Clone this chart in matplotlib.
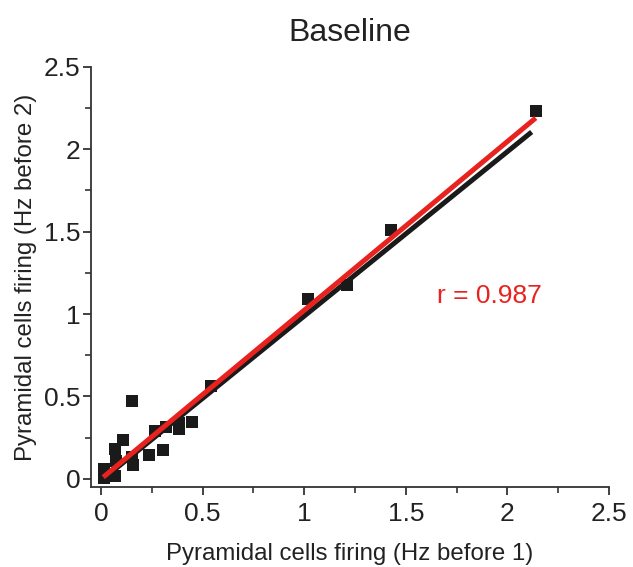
import numpy as np
import matplotlib.pyplot as plt
from matplotlib.ticker import MultipleLocator

plt.rcParams['font.family'] = ['Liberation Sans', 'DejaVu Sans']

# data
x_before1 = [0.012, 0.012, 0.070, 0.072, 0.070, 0.108, 0.152, 0.157, 0.154, 0.235, 0.265,
             0.303, 0.320, 0.383, 0.385, 0.445, 0.540, 1.018, 1.212, 1.427, 2.140]
y_before2 = [0.005, 0.058, 0.015, 0.108, 0.180, 0.238, 0.135, 0.085, 0.475, 0.143, 0.292,
             0.176, 0.312, 0.338, 0.302, 0.345, 0.566, 1.090, 1.177, 1.510, 2.232]

# fitted lines (end points)
black_x = [0.01, 2.12]
black_y = [0.00, 2.105]
red_x = [0.01, 2.14]
red_y = [0.01, 2.19]

r_text = 'r = 0.987'
red = '#e8231f'
dark = '#222222'

fig = plt.figure(figsize=(6.33, 5.67), dpi=100)
ax = fig.add_axes([0.1438, 0.141, 0.818, 0.741])

ax.scatter(x_before1, y_before2, marker='s', s=64, color='#1a1a1a', zorder=2, linewidths=0)
ax.plot(black_x, black_y, color='#1a1a1a', lw=3.6, solid_capstyle='butt', zorder=3)
ax.plot(red_x, red_y, color=red, lw=3.6, solid_capstyle='butt', zorder=4)

ax.text(1.655, 1.11, r_text, color=red, fontsize=19, va='center', ha='left')

ax.set_xlim(-0.05, 2.5)
ax.set_ylim(-0.05, 2.5)
ax.xaxis.set_major_locator(MultipleLocator(0.5))
ax.yaxis.set_major_locator(MultipleLocator(0.5))
ax.xaxis.set_minor_locator(MultipleLocator(0.25))
ax.yaxis.set_minor_locator(MultipleLocator(0.25))
ax.xaxis.set_major_formatter(plt.FuncFormatter(lambda v, p: ('%g' % v)))
ax.yaxis.set_major_formatter(plt.FuncFormatter(lambda v, p: ('%g' % v)))

for s in ['top', 'right']:
    ax.spines[s].set_visible(False)
for s in ['left', 'bottom']:
    ax.spines[s].set_color('#333333')
    ax.spines[s].set_linewidth(1.3)

ax.tick_params(which='major', length=6, width=1.3, color='#333333', labelsize=19,
               labelcolor=dark)
ax.tick_params(axis='x', which='major', pad=5)
ax.tick_params(axis='y', which='major', pad=1.5)
ax.tick_params(which='minor', length=4, width=1.2, color='#333333')

ax.set_xlabel('Pyramidal cells firing (Hz before 1)', fontsize=17.3, color=dark, labelpad=12)
ax.set_ylabel('Pyramidal cells firing (Hz before 2)', fontsize=17.3, color=dark, labelpad=5)
ax.set_title('Baseline', fontsize=23, color=dark, pad=19)

fig.savefig('out.png', dpi=100)
